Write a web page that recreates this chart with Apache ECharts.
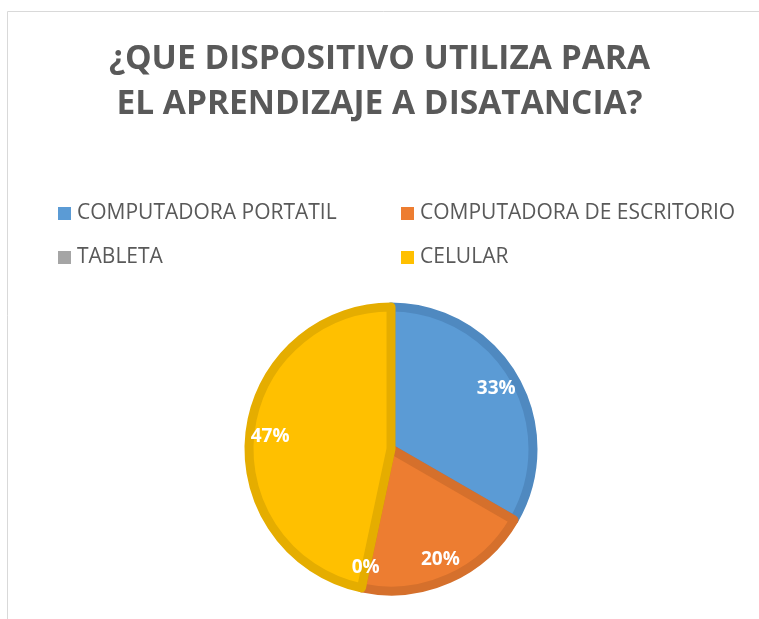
<!DOCTYPE html>
<html>
<head>
<meta charset="utf-8">
<script src="https://cdn.jsdelivr.net/npm/echarts@6/dist/echarts.min.js"></script>
<style>html,body{margin:0;padding:0;background:#fff}#c{width:759px;height:619px}</style>
</head>
<body>
<div id="c"></div>
<script>
var titleText = '¿QUE DISPOSITIVO UTILIZA PARA\nEL APRENDIZAJE A DISATANCIA?';
var categories = ['COMPUTADORA PORTATIL', 'COMPUTADORA DE ESCRITORIO', 'TABLETA', 'CELULAR'];
var values = [5, 3, 0, 7];
var fillColors = ['#5B9BD5', '#ED7D31', '#A5A5A5', '#FFC000'];
var borderColors = ['#4F89C0', '#D5702C', '#959595', '#E5AD00'];

var chart = echarts.init(document.getElementById('c'), null, {renderer: 'canvas'});
var data = categories.map(function (n, i) {
  return {name: n, value: values[i], itemStyle: {color: fillColors[i], borderColor: borderColors[i], borderWidth: values[i] > 0 ? 9 : 0}};
});
var labelData = categories.map(function (n, i) { return {name: n, value: values[i]}; });
var font = '"Open Sans", sans-serif';
var legendCommon = {orient: 'vertical', top: 198, itemWidth: 13, itemHeight: 13, itemGap: 23, icon: 'rect',
  itemStyle: {borderWidth: 0},
  textStyle: {fontFamily: font, fontSize: 21, color: '#595959', padding: [0, 0, 0, 1]}};
chart.setOption({
  animation: false,
  graphic: [{type: 'rect', shape: {x: 7.5, y: 11.5, width: 900, height: 900}, style: {fill: 'none', stroke: '#D9D9D9', lineWidth: 1}, silent: true, z: -10}],
  title: {
    text: titleText, left: 'center', top: 32,
    textStyle: {fontFamily: font, fontWeight: 'bold', fontSize: 33.5, color: '#595959', lineHeight: 45}
  },
  legend: [
    Object.assign({data: [categories[0], categories[2]], left: 53}, legendCommon),
    Object.assign({data: [categories[1], categories[3]], left: 396}, legendCommon)
  ],
  series: [
    {
      type: 'pie', center: [391, 449], radius: [0, 142], startAngle: 90, clockwise: true,
      data: data, label: {show: false}, labelLine: {show: false}, silent: true,
      stillShowZeroSum: true, emphasis: {disabled: true}
    },
    {
      type: 'pie', center: [391, 449], radius: [92, 145], startAngle: 90, clockwise: true,
      data: labelData, silent: true, percentPrecision: 0, emphasis: {disabled: true},
      itemStyle: {color: 'rgba(0,0,0,0)', borderWidth: 0},
      label: {show: true, position: 'inside', formatter: '{d}%', color: '#fff', fontFamily: font, fontWeight: 'bold', fontSize: 19},
      labelLine: {show: false}
    }
  ]
});
</script>
</body>
</html>
